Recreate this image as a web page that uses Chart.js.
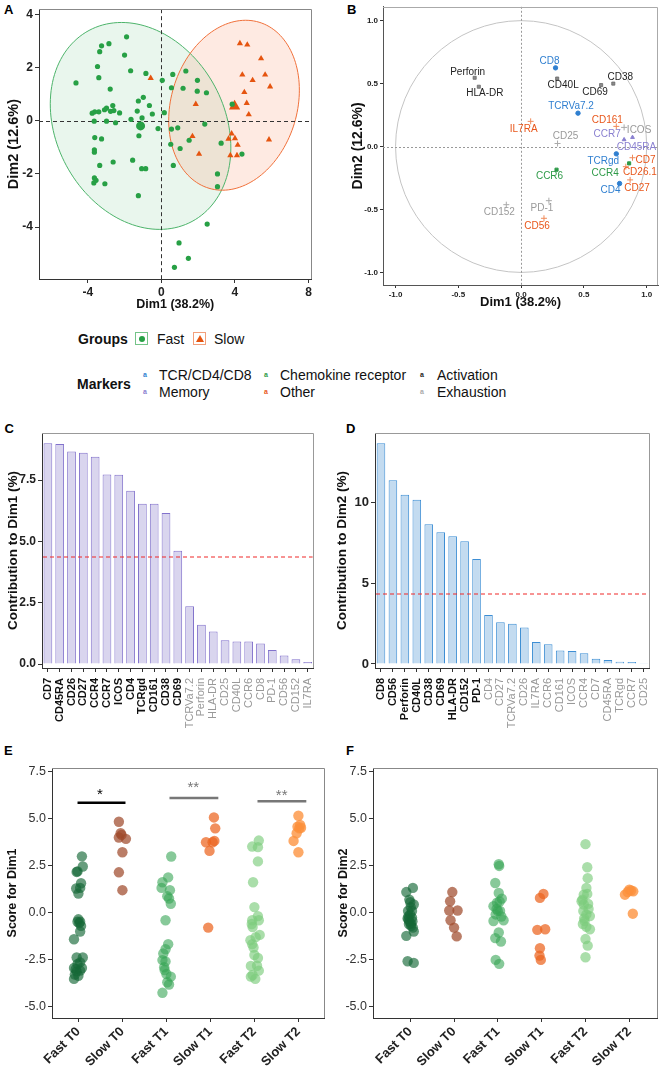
<!DOCTYPE html>
<html>
<head>
<meta charset="utf-8">
<script src="https://cdn.jsdelivr.net/npm/chart.js@4.4.1/dist/chart.umd.min.js"></script>
<style>
  body { margin: 0; background: #fff; width: 663px; height: 1068px; position: relative; overflow: hidden;
         font-family: "Liberation Sans", Arial, sans-serif; }
  canvas { position: absolute; }
  .pl { position: absolute; font-weight: bold; font-size: 13px; line-height: 13px; color: #000; }
  .leg { position: absolute; font-size: 14px; line-height: 16px; color: #111; white-space: nowrap; }
  .b { font-weight: bold; }
  .key { position: absolute; width: 13px; height: 13px; box-sizing: border-box; background: #fff; }
  .sym { position: absolute; font-size: 7px; line-height: 8px; font-weight: bold; }
</style>
</head>
<body>
<div class="pl" style="left:4px;top:2.5px">A</div>
<div class="pl" style="left:347px;top:2.5px">B</div>
<div class="pl" style="left:4.5px;top:421.5px">C</div>
<div class="pl" style="left:346px;top:421.5px">D</div>
<div class="pl" style="left:4px;top:743.5px">E</div>
<div class="pl" style="left:346px;top:743.5px">F</div>

<canvas id="chartA" width="318" height="316" style="left:0;top:0"></canvas>
<canvas id="chartB" width="330" height="316" style="left:333px;top:0"></canvas>
<canvas id="chartC" width="327" height="320" style="left:0;top:420px"></canvas>
<canvas id="chartD" width="330" height="320" style="left:333px;top:420px"></canvas>
<canvas id="chartE" width="330" height="313" style="left:0;top:755px"></canvas>
<canvas id="chartF" width="333" height="313" style="left:330px;top:755px"></canvas>

<!-- Groups legend -->
<div class="leg b" style="left:78px;top:331px">Groups</div>
<div class="key" style="left:135px;top:332px;border:1px solid #74c488">
  <div style="position:absolute;left:2.5px;top:2.5px;width:6px;height:6px;border-radius:50%;background:#27a045"></div>
</div>
<div class="leg" style="left:157px;top:331px">Fast</div>
<div class="key" style="left:193px;top:332px;border:1px solid #f2a07c">
  <div style="position:absolute;left:1.5px;top:1.5px;width:0;height:0;border-left:4px solid transparent;border-right:4px solid transparent;border-bottom:7px solid #e5540f"></div>
</div>
<div class="leg" style="left:214px;top:331px">Slow</div>

<!-- Markers legend -->
<div class="leg b" style="left:77px;top:376px">Markers</div>
<div class="sym" style="left:143px;top:371px;color:#2f7fd0">a</div>
<div class="leg" style="left:159px;top:367px">TCR/CD4/CD8</div>
<div class="sym" style="left:264px;top:371px;color:#2e9a48">a</div>
<div class="leg" style="left:280px;top:367px">Chemokine receptor</div>
<div class="sym" style="left:420px;top:371px;color:#222">a</div>
<div class="leg" style="left:437px;top:367px">Activation</div>
<div class="sym" style="left:143px;top:388px;color:#8a80d0">a</div>
<div class="leg" style="left:159px;top:384px">Memory</div>
<div class="sym" style="left:264px;top:388px;color:#e8561a">a</div>
<div class="leg" style="left:280px;top:384px">Other</div>
<div class="sym" style="left:420px;top:388px;color:#aaa">a</div>
<div class="leg" style="left:437px;top:384px">Exhaustion</div>

<script>
// ---------- A: individual PCA scores ----------
const A_FAST_X = [-4.64, -1.89, -2.85, -3.25, -3.35, -2.0, -3.47, -1.67, -0.84, -3.4, -2.78, 0.05, 0.62, 1.33, 1.96,
  0.55, 1.18, 1.95, 2.45, -0.98, -1.25, -0.65, -0.49, -1.31, -1.05, -1.65, -2.64, -2.98, -3.09, -2.76, -2.58, -2.27,
  -3.4, -3.62, -3.76, -3.65, -2.98, -2.49, 0.16, -0.18, 0.55, 0.89, 2.36, 3.85, -3.62, -3.25, -1.22, -3.64, -3.64,
  0.51, 1.02, 1.51, 3.25, 4.38, -1.56, -2.62, -3.35, -1.07, -0.85, 0.65, 3.05, -3.64, -3.55, -3.67, -3.07, -1.25,
  3.05, 2.49, 0.96, 1.47, 0.71];
const A_FAST_Y = [1.43, 3.17, 2.91, 2.83, 2.61, 2.48, 2.05, 1.89, 1.79, 1.63, 1.2, 1.53, 1.75, 1.88, 1.53,
  1.25, 1.23, 1.12, 1.06, 0.89, 0.75, 0.58, 0.26, 0.37, 0.11, 0.06, 0.58, 0.48, 0.42, 0.36, 0.39, 0.3,
  0.34, 0.34, 0.29, -0.01, -0.01, -0.07, 0.31, -0.29, -0.31, -0.26, -0.12, 0.63, -0.63, -0.68, -0.56, -1.09, -1.18,
  -0.88, -1.04, -0.73, -0.84, -1.25, -1.48, -1.55, -1.68, -1.8, -1.8, -1.68, -2.0, -2.15, -2.24, -2.34, -2.37, -2.82,
  -2.48, -3.89, -4.6, -5.18, -5.52];
const A_SLOW_X = [4.27, 4.67, 5.42, 4.4, 5.64, 4.96, 5.91, -0.58, 4.51, 4.64, 1.87, 4.75, 1.69, 3.82, 3.65, 4.0,
  5.85, 4.15, 2.05, 3.75, 4.11];
const A_SLOW_Y = [2.92, 2.87, 2.35, 1.74, 1.74, 1.53, 1.29, 1.61, 1.08, 0.67, 0.63, 0.24, -0.58, -0.48, -0.68, -0.66,
  -0.71, -0.91, -1.25, -1.3, -1.3];
const A_FAST_MEAN = [-1.13, -0.19];
const A_SLOW_MEAN = [3.98, 0.55];
// 95% ellipses: centre and two semi-axis vectors, in data units
const A_FAST_ELLIPSE = { c: [-1.13, -0.19], u: [2.80, -3.60], v: [4.03, 1.50] };
const A_SLOW_ELLIPSE = { c: [3.95, 0.59], u: [-1.36, -3.13], v: [3.28, -0.68] };

// ---------- B: variable correlation circle ----------
const B_MARKERS = ['Perforin', 'HLA-DR', 'CD8', 'CD40L', 'CD69', 'CD38', 'TCRVa7.2', 'IL7RA', 'CD161', 'ICOS', 'CCR7',
  'CD45RA', 'CD25', 'TCRgd', 'CD7', 'CCR4', 'CD26.1', 'CD27', 'CD4', 'CCR6', 'CD152', 'PD-1', 'CD56'];
const B_DIM1 = [-0.37, -0.337, 0.274, 0.287, 0.637, 0.734, 0.453, 0.076, 0.758, 0.82, 0.82, 0.887, 0.29, 0.758,
  0.887, 0.86, 0.834, 0.868, 0.784, 0.282, -0.118, 0.221, 0.182];
const B_DIM2 = [0.546, 0.475, 0.625, 0.54, 0.488, 0.50, 0.265, 0.2, 0.16, 0.152, 0.055, 0.073, 0.024, -0.058,
  -0.089, -0.134, -0.16, -0.265, -0.294, -0.184, -0.462, -0.43, -0.57];
const B_TYPE = ['act', 'act', 'tcr', 'act', 'act', 'act', 'tcr', 'oth', 'oth', 'exh', 'mem', 'mem', 'exh', 'tcr',
  'oth', 'che', 'oth', 'oth', 'tcr', 'che', 'exh', 'exh', 'oth'];

// ---------- C / D: contributions ----------
const C_MARKERS = ['CD7', 'CD45RA', 'CD26', 'CD27', 'CCR4', 'CCR7', 'ICOS', 'CD4', 'TCRgd', 'CD161', 'CD38', 'CD69',
  'TCRVa7.2', 'Perforin', 'HLA-DR', 'CD25', 'CD40L', 'CCR6', 'CD8', 'PD-1', 'CD56', 'CD152', 'IL7RA'];
const C_CONTRIB = [9.0, 8.97, 8.67, 8.61, 8.45, 7.73, 7.72, 7.07, 6.54, 6.54, 6.16, 4.62, 2.35, 1.60, 1.33, 0.97,
  0.92, 0.92, 0.84, 0.57, 0.35, 0.19, 0.08];
const D_MARKERS = ['CD8', 'CD56', 'Perforin', 'CD40L', 'CD38', 'CD69', 'HLA-DR', 'CD152', 'PD-1', 'CD4', 'CD27',
  'TCRVa7.2', 'CD26', 'IL7RA', 'CCR6', 'CD161', 'ICOS', 'CCR4', 'CD7', 'CD45RA', 'TCRgd', 'CCR7', 'CD25'];
const D_CONTRIB = [13.62, 11.34, 10.45, 10.14, 8.62, 8.13, 7.88, 7.57, 6.48, 3.02, 2.57, 2.49, 2.26, 1.36, 1.22,
  0.84, 0.80, 0.66, 0.33, 0.25, 0.14, 0.12, 0.04];
const EXPECTED = 4.35;

// ---------- E / F: scores per group, [jitter, score] ----------
const GROUPS = ['Fast T0', 'Slow T0', 'Fast T1', 'Slow T1', 'Fast T2', 'Slow T2'];
const E_FAST_T0 = [[0.08, 3.0], [0.1, 2.46], [-0.02, 2.2], [-0.04, 2.17], [0.06, 1.57], [-0.05, 1.29], [0.04, 1.32],
  [0, 1.02], [0, -0.35], [-0.02, -0.48], [0.04, -0.48], [0.06, -0.7], [0.04, -1.0], [-0.1, -1.41], [-0.04, -2.38],
  [0.1, -2.38], [0.04, -2.64], [-0.02, -2.73], [-0.1, -2.94], [0.08, -2.94], [-0.04, -3.12], [-0.08, -3.29],
  [-0.1, -3.52], [0, -3.35], [0.04, -3.08], [0.02, -0.55], [-0.06, -3.0]];
const E_SLOW_T0 = [[-0.08, 4.84], [-0.04, 4.23], [-0.08, 4.0], [0.08, 3.93], [0, 3.22], [-0.08, 2.15], [0, 1.2],
  [-0.02, 4.14]];
const E_FAST_T1 = [[0.11, 2.99], [0.04, 1.88], [-0.09, 1.62], [-0.11, 1.32], [0.08, 1.2], [0.02, 0.88], [0.06, 0.76],
  [0.1, 0.48], [-0.02, -0.4], [0.04, -1.67], [-0.02, -1.94], [-0.07, -2.17], [-0.09, -2.52], [-0.02, -2.59],
  [-0.05, -2.9], [-0.04, -3.05], [0.1, -3.4], [0.02, -3.7], [0.06, -3.82], [-0.09, -4.26], [0, -3.26]];
const E_SLOW_T1 = [[0.08, 5.07], [0.11, 4.49], [-0.1, 3.75], [0.05, 3.75], [0.09, 3.82], [-0.02, 3.29], [-0.05, -0.79]];
const E_FAST_T2 = [[0.1, 3.84], [-0.05, 3.52], [0.08, 3.49], [0.08, 2.73], [-0.03, 1.62], [0, 0.3], [0.08, -0.18],
  [0.1, -0.4], [-0.05, -0.4], [-0.04, -0.76], [0.12, -1.18], [-0.09, -1.46], [-0.05, -1.67], [-0.02, -1.85],
  [0, -2.25], [0.08, -2.41], [-0.08, -2.83], [0.1, -3.08], [-0.04, -3.31], [0.02, -3.52], [-0.08, -3.4],
  [0.06, -2.82], [-0.06, -0.6], [0.03, -1.3]];
const E_SLOW_T2 = [[0, 5.16], [-0.02, 4.58], [0.02, 4.49], [0.06, 4.52], [-0.04, 4.23], [-0.11, 3.82], [0, 3.22],
  [0.04, 4.67]];
const F_FAST_T0 = [[0.06, 1.32], [-0.09, 1.1], [-0.02, 0.7], [0, 0.56], [0.08, 0.44], [-0.05, 0.09], [0, -0.09],
  [0.04, -0.26], [-0.04, -0.35], [-0.02, -0.47], [0.02, -0.58], [0.06, -0.79], [0.08, -1.0], [-0.09, -1.23],
  [-0.06, -2.58], [0.08, -2.67], [-0.04, -0.18], [0.04, 0.09], [0.02, -0.7], [-0.06, -0.3], [0.01, 0.3],
  [-0.03, -0.6], [0.05, -0.45]];
const F_SLOW_T0 = [[-0.04, 1.1], [-0.09, 0.61], [-0.11, 0.12], [0.08, 0.12], [-0.08, -0.4], [0, -0.79], [0.06, -1.26]];
const F_FAST_T1 = [[0.02, 2.58], [0.03, 2.49], [-0.06, 1.58], [0.02, 1.05], [0.09, 0.75], [-0.1, 0.35], [-0.02, 0.53],
  [0.05, 0.09], [-0.05, -0.09], [0.13, -0.4], [-0.1, -0.44], [0, 0.09], [0.02, -1.05], [-0.06, -1.35], [0.07, -1.53],
  [-0.05, -2.51], [0.03, -2.72], [0.04, 0.6], [-0.03, 0.2], [0.08, -0.2]];
const F_SLOW_T1 = [[0.04, 1.0], [-0.04, 0.79], [-0.1, -0.91], [0.08, -0.88], [-0.04, -1.89], [-0.05, -2.28],
  [-0.02, -2.51]];
const F_FAST_T2 = [[0, 3.65], [0.04, 2.42], [0.05, 1.84], [0.02, 1.32], [-0.04, 0.96], [-0.09, 0.61], [0.06, 0.47],
  [-0.05, 0.09], [0.1, -0.18], [-0.02, -0.44], [0.02, -0.75], [0.1, -0.88], [0, -1.4], [0.05, -1.75], [0, -2.37],
  [-0.04, 0.44], [0.02, -0.09], [-0.07, 0.7], [0.07, 0.2], [-0.03, -0.3], [0.04, 1.0], [-0.06, -0.6]];
const F_SLOW_T2 = [[-0.1, 0.96], [0, 1.23], [0.04, 1.18], [0.09, 1.14], [0.08, -0.05], [-0.04, 1.1]];
// significance brackets: from, to, height, label
const E_SIG_FROM = [-0.02, 2.07, 4.07];
const E_SIG_TO = [1.07, 3.18, 5.18];
const E_SIG_Y = [5.85, 6.11, 5.93];
const E_SIG_TEXT = ['*', '**', '**'];
const E_SIG_TEXT_X = [0.49, 2.61, 4.62];
const E_SIG_TEXT_Y = [6.6, 6.95, 6.55];

// ---------- styles ----------
const GROUP_COLORS = ['rgba(22,105,55,0.65)', 'rgba(160,75,45,0.72)', 'rgba(55,165,85,0.6)',
  'rgba(235,100,30,0.72)', 'rgba(125,205,125,0.65)', 'rgba(253,145,60,0.78)'];
const B_TEXT_COL = { tcr: '#2f7fd0', mem: '#8a80d0', che: '#2e9a48', act: '#222222', oth: '#e8561a', exh: '#9a9a9a' };
const B_PT_COL = { tcr: '#2f7fd0', mem: '#8a80d0', che: '#2e9a48', act: 'rgba(100,100,100,0.75)', oth: '#f08a5a', exh: '#aaaaaa' };
const B_PT_STYLE = { tcr: 'circle', mem: 'triangle', che: 'rect', act: 'rect', oth: 'cross', exh: 'cross' };
// label offsets (px) from each point
const B_NUDGE = [[-7, -6], [6, 7], [-6, -7], [6, 7], [-6, 7], [7, -6], [-7, -7], [-7, 8], [-9, -6], [15, 3],
  [-17, -5], [4, 10], [8, -7], [-13, 7], [13, 3], [-24, 10], [14, 6], [7, 8], [-9, 7], [-7, 7], [-7, 8], [-7, 8], [-7, 8]];

Chart.defaults.font.family = '"Liberation Sans", Arial, sans-serif';
Chart.defaults.color = '#222';
Chart.defaults.animation = false;

// ---------- plugins ----------
const frame = {
  id: 'frame',
  afterDraw(chart, args, o) {
    const { ctx, chartArea: a } = chart;
    ctx.save();
    ctx.strokeStyle = o.color || '#999';
    ctx.lineWidth = 1;
    ctx.beginPath();
    ctx.moveTo(a.left, Math.round(a.top) + 0.5);
    ctx.lineTo(Math.round(a.right) - 0.5, Math.round(a.top) + 0.5);
    ctx.lineTo(Math.round(a.right) - 0.5, a.bottom);
    ctx.stroke();
    ctx.restore();
  }
};

const zeroLines = {
  id: 'zeroLines',
  beforeDatasetsDraw(chart, args, o) {
    const { ctx, chartArea: a, scales: { x, y } } = chart;
    ctx.save();
    ctx.strokeStyle = o.color;
    ctx.lineWidth = 1;
    ctx.setLineDash(o.dash);
    const px = Math.round(x.getPixelForValue(0)) + 0.5;
    const py = Math.round(y.getPixelForValue(0)) + 0.5;
    ctx.beginPath();
    ctx.moveTo(px, a.top); ctx.lineTo(px, a.bottom);
    ctx.moveTo(a.left, py); ctx.lineTo(a.right, py);
    ctx.stroke();
    ctx.restore();
  }
};

const ellipses = {
  id: 'ellipses',
  beforeDatasetsDraw(chart, args, o) {
    const { ctx, scales: { x, y } } = chart;
    const path = e => {
      ctx.beginPath();
      for (let k = 0; k <= 144; k++) {
        const t = k / 144 * Math.PI * 2;
        const dx = e.c[0] + e.u[0] * Math.cos(t) + e.v[0] * Math.sin(t);
        const dy = e.c[1] + e.u[1] * Math.cos(t) + e.v[1] * Math.sin(t);
        const px = x.getPixelForValue(dx), py = y.getPixelForValue(dy);
        if (k) ctx.lineTo(px, py); else ctx.moveTo(px, py);
      }
      ctx.closePath();
    };
    ctx.save();
    o.items.forEach(e => { path(e); ctx.fillStyle = e.fill; ctx.fill(); });
    o.items.forEach(e => { path(e); ctx.strokeStyle = e.stroke; ctx.lineWidth = 1; ctx.stroke(); });
    ctx.restore();
  }
};

const unitCircle = {
  id: 'unitCircle',
  beforeDatasetsDraw(chart) {
    const { ctx, scales: { x, y } } = chart;
    const cx = x.getPixelForValue(0), cy = y.getPixelForValue(0);
    ctx.save();
    ctx.strokeStyle = '#c4c4c4';
    ctx.lineWidth = 1;
    ctx.beginPath();
    ctx.ellipse(cx, cy, x.getPixelForValue(1) - cx, cy - y.getPixelForValue(1), 0, 0, Math.PI * 2);
    ctx.stroke();
    ctx.restore();
  }
};

const pointLabels = {
  id: 'pointLabels',
  afterDatasetsDraw(chart) {
    const { ctx, scales: { x, y } } = chart;
    ctx.save();
    ctx.font = '10px "Liberation Sans", Arial, sans-serif';
    ctx.textAlign = 'center';
    ctx.textBaseline = 'middle';
    B_MARKERS.forEach((m, i) => {
      ctx.fillStyle = B_TEXT_COL[B_TYPE[i]];
      ctx.fillText(m, x.getPixelForValue(B_DIM1[i]) + B_NUDGE[i][0], y.getPixelForValue(B_DIM2[i]) + B_NUDGE[i][1]);
    });
    ctx.restore();
  }
};

// dashed reference line at the expected average contribution
function makeHline(value, color) {
  return {
    id: 'hline',
    afterDraw(chart) {
      const { ctx, chartArea: a, scales: { y } } = chart;
      const py = Math.round(y.getPixelForValue(value));
      ctx.save();
      ctx.strokeStyle = color;
      ctx.lineWidth = 1.2;
      ctx.setLineDash([4, 3]);
      ctx.beginPath(); ctx.moveTo(a.left + 1, py); ctx.lineTo(a.right - 1, py); ctx.stroke();
      ctx.restore();
    }
  };
}

const sigText = {
  id: 'sigText',
  afterDatasetsDraw(chart) {
    const { ctx, scales: { x, y } } = chart;
    ctx.save();
    ctx.font = '15px "Liberation Sans", Arial, sans-serif';
    ctx.textAlign = 'center';
    ctx.textBaseline = 'alphabetic';
    E_SIG_TEXT.forEach((t, i) => {
      ctx.fillStyle = i === 0 ? '#000' : '#777';
      ctx.fillText(t, x.getPixelForValue(E_SIG_TEXT_X[i]), y.getPixelForValue(E_SIG_TEXT_Y[i]) + 10);
    });
    ctx.restore();
  }
};

// ---------- axis helper ----------
function axis(o) {
  return {
    type: o.type || 'linear',
    min: o.min, max: o.max,
    offset: !!o.offset,
    afterBuildTicks: o.ticks ? s => { s.ticks = o.ticks.map(v => ({ value: v })); } : undefined,
    afterFit: s => { if (s.isHorizontal()) s.height = o.size; else s.width = o.size; },
    grid: { display: true, drawOnChartArea: false, drawTicks: true, offset: false, tickLength: o.tl || 4, color: '#333' },
    border: { display: true, color: o.border || '#333', width: 1 },
    ticks: {
      autoSkip: false, maxRotation: o.rot || 0, minRotation: o.rot || 0,
      padding: o.pad == null ? 2 : o.pad,
      font: o.font, color: o.color || '#222',
      callback: o.fmt
    },
    title: o.title ? { display: true, text: o.title, font: o.titleFont, color: '#111', padding: o.titlePad } : { display: false }
  };
}

const baseOpts = (pad, scales, plugins) => ({
  responsive: false, devicePixelRatio: 1, animation: false,
  layout: { padding: pad },
  scales,
  plugins: Object.assign({ legend: { display: false }, tooltip: { enabled: false } }, plugins)
});

const zip = (xs, ys) => xs.map((v, i) => ({ x: v, y: ys[i] }));
const fixed1 = v => Number(v).toFixed(1);

// ---------- A ----------
new Chart(document.getElementById('chartA'), {
  type: 'scatter',
  data: {
    datasets: [
      { data: zip(A_FAST_X, A_FAST_Y), pointStyle: 'circle', pointRadius: 2.6, backgroundColor: '#27a045', borderWidth: 0 },
      { data: zip(A_SLOW_X, A_SLOW_Y), pointStyle: 'triangle', pointRadius: 3.6, backgroundColor: '#e5540f', borderWidth: 0 },
      { data: [{ x: A_FAST_MEAN[0], y: A_FAST_MEAN[1] }], pointStyle: 'circle', pointRadius: 4.5, backgroundColor: '#27a045', borderWidth: 0 },
      { data: [{ x: A_SLOW_MEAN[0], y: A_SLOW_MEAN[1] }], pointStyle: 'triangle', pointRadius: 6.5, backgroundColor: '#e5540f', borderWidth: 0 }
    ]
  },
  options: baseOpts({ top: 7, right: 6, left: 0, bottom: 0 }, {
    x: axis({ min: -6.65, max: 8.16, ticks: [-4, 0, 4, 8], size: 37, font: { size: 12, weight: 'bold' }, fmt: v => String(v),
      title: 'Dim1 (38.2%)', titleFont: { size: 12.5, weight: 'bold' }, titlePad: { top: 0, bottom: 3.5 } }),
    y: axis({ min: -5.96, max: 4.21, ticks: [-4, -2, 0, 2, 4], size: 39, font: { size: 12, weight: 'bold' }, fmt: v => String(v),
      title: 'Dim2 (12.6%)', titleFont: { size: 14.5, weight: 'bold' }, titlePad: { top: 5, bottom: 0 } })
  }, {
    frame: { color: '#888' },
    zeroLines: { color: '#333', dash: [4, 3] },
    ellipses: { items: [
      Object.assign({ stroke: '#4cb36a', fill: 'rgba(76,179,106,0.12)' }, A_FAST_ELLIPSE),
      Object.assign({ stroke: '#f0703a', fill: 'rgba(248,150,110,0.2)' }, A_SLOW_ELLIPSE)
    ] }
  }),
  plugins: [ellipses, zeroLines, frame]
});

// ---------- B ----------
new Chart(document.getElementById('chartB'), {
  type: 'scatter',
  data: {
    datasets: [{
      data: zip(B_DIM1, B_DIM2),
      pointStyle: B_TYPE.map(t => B_PT_STYLE[t]),
      pointRadius: B_TYPE.map(t => (t === 'oth' || t === 'exh') ? 3 : 2.2),
      backgroundColor: B_TYPE.map(t => B_PT_COL[t]),
      borderColor: B_TYPE.map(t => B_PT_COL[t]),
      borderWidth: 1
    }]
  },
  options: baseOpts({ top: 5, right: 2, left: 0, bottom: 0 }, {
    x: axis({ min: -1.10, max: 1.09, ticks: [-1, -0.5, 0, 0.5, 1], size: 31, tl: 3, font: { size: 8, weight: 'bold' }, fmt: fixed1,
      border: '#555', title: 'Dim1 (38.2%)', titleFont: { size: 13, weight: 'bold' }, titlePad: { top: 0, bottom: 5.5 } }),
    y: axis({ min: -1.10, max: 1.11, ticks: [-1, -0.5, 0, 0.5, 1], size: 50, tl: 3, font: { size: 8, weight: 'bold' }, fmt: fixed1,
      border: '#555', title: 'Dim2 (12.6%)', titleFont: { size: 14, weight: 'bold' }, titlePad: { top: 17, bottom: 0 } })
  }, {
    frame: { color: '#aaa' },
    zeroLines: { color: '#999', dash: [2, 2] }
  }),
  plugins: [unitCircle, zeroLines, pointLabels, frame]
});

// ---------- C / D ----------
function contribChart(id, labels, values, nTop, o) {
  return new Chart(document.getElementById(id), {
    type: 'bar',
    data: {
      labels,
      datasets: [{ data: values, backgroundColor: o.fill, borderColor: o.stroke, borderWidth: 1,
        barPercentage: o.barPct, categoryPercentage: 1 }]
    },
    options: baseOpts({ top: 13, right: o.right, left: 0, bottom: 0 }, {
      x: axis({ type: 'category', offset: true, size: 72, rot: 90, pad: 6,
        font: c => ({ size: 11, weight: c.index < nTop ? 'bold' : 'normal' }),
        color: c => c.index < nTop ? '#111' : '#999',
        fmt: (v, i) => labels[i] }),
      y: axis({ min: o.min, max: o.max, ticks: o.ticks, size: 42, font: { size: o.tickSize, weight: 'bold' }, fmt: o.fmt,
        title: o.title, titleFont: { size: 13.5, weight: 'bold' }, titlePad: { top: o.titleTop, bottom: 0 } })
    }, {
      frame: { color: '#999' }
    }),
    plugins: [frame, makeHline(EXPECTED, '#f02828')]
  });
}
contribChart('chartC', C_MARKERS, C_CONTRIB, 12, {
  fill: '#d9d5ee', stroke: '#8272cc', barPct: 0.74, right: 4, min: -0.163, max: 9.42, ticks: [0, 2.5, 5, 7.5],
  tickSize: 12, fmt: fixed1, title: 'Contribution to Dim1 (%)', titleTop: 4.8
});
contribChart('chartD', D_MARKERS, D_CONTRIB, 9, {
  fill: '#c3dbf0', stroke: '#3d8ed4', barPct: 0.72, right: 1, min: -0.247, max: 14.26, ticks: [0, 5, 10],
  tickSize: 13, fmt: v => String(v), title: 'Contribution to Dim2 (%)', titleTop: 1.4
});

// ---------- E / F ----------
function jitterSets(groups) {
  return groups.map((pts, i) => ({
    data: pts.map(p => ({ x: i + p[0], y: p[1] })),
    backgroundColor: GROUP_COLORS[i], borderWidth: 0, pointRadius: 5.2, pointStyle: 'circle'
  }));
}

function scoreChart(id, sets, o) {
  return new Chart(document.getElementById(id), {
    type: 'scatter',
    data: { datasets: sets },
    options: baseOpts({ top: 13, right: o.right, left: 0, bottom: 0 }, {
      x: axis({ min: o.xmin, max: o.xmax, ticks: [0, 1, 2, 3, 4, 5], size: 50, rot: 45, pad: 2,
        font: { size: 13, weight: 'bold' }, fmt: v => GROUPS[v] }),
      y: axis({ min: -5.6, max: 7.7, ticks: [-5, -2.5, 0, 2.5, 5, 7.5], size: o.ysize,
        font: { size: 12.5 }, color: '#333', fmt: fixed1,
        title: o.title, titleFont: { size: 12.5, weight: 'bold' }, titlePad: { top: o.titleTop, bottom: 0 } })
    }, { frame: { color: '#888' } }),
    plugins: o.plugins
  });
}

const sigSets = E_SIG_Y.map((v, i) => ({
  type: 'line', showLine: true,
  data: [{ x: E_SIG_FROM[i], y: v }, { x: E_SIG_TO[i], y: v }],
  borderColor: i === 0 ? '#000' : '#777', borderWidth: 2.5, pointRadius: 0
}));

scoreChart('chartE', jitterSets([E_FAST_T0, E_SLOW_T0, E_FAST_T1, E_SLOW_T1, E_FAST_T2, E_SLOW_T2]).concat(sigSets), {
  right: 5, xmin: -0.6, xmax: 5.6, ysize: 52, title: 'Score for Dim1', titleTop: 5.5, plugins: [sigText, frame]
});
scoreChart('chartF', jitterSets([F_FAST_T0, F_SLOW_T0, F_FAST_T1, F_SLOW_T1, F_FAST_T2, F_SLOW_T2]), {
  right: 4, xmin: -0.85, xmax: 5.65, ysize: 43, title: 'Score for Dim2', titleTop: 6.5, plugins: [frame]
});
</script>
</body>
</html>
